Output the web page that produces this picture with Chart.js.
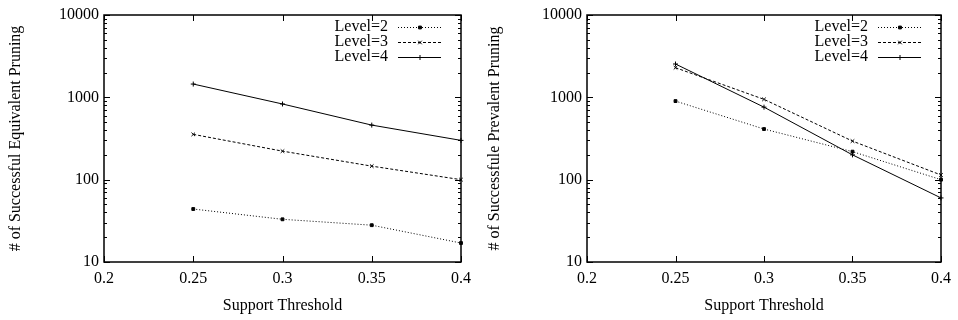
<!DOCTYPE html>
<html>
<head>
<meta charset="utf-8">
<script src="https://cdn.jsdelivr.net/npm/chart.js@4.4.0/dist/chart.umd.min.js"></script>
<style>
  html, body { margin: 0; padding: 0; background: #fff; }
  #wrap { position: relative; width: 958px; height: 320px; }
  canvas { position: absolute; top: 0; }
</style>
</head>
<body>
<div id="wrap">
  <canvas id="left" width="479" height="320" style="left:0"></canvas>
  <canvas id="right" width="479" height="320" style="left:479px"></canvas>
</div>
<script>
// Support thresholds (x values)
const thresholds = [0.25, 0.3, 0.35, 0.4];

// Left chart: successful equivalent pruning
const equivLevel2 = [44, 33, 28, 17];
const equivLevel3 = [355, 222, 146, 100];
const equivLevel4 = [1450, 830, 460, 300];

// Right chart: successful prevalent pruning
const prevLevel2 = [900, 412, 219, 100];
const prevLevel3 = [2290, 945, 294, 114];
const prevLevel4 = [2540, 760, 200, 60];

const seriesLabels = ['Level=2', 'Level=3', 'Level=4'];
const yDecades = [10, 100, 1000, 10000];
const xTickLabels = ['0.2', '0.25', '0.3', '0.35', '0.4'];

Chart.defaults.font.family = '"Liberation Serif", "DejaVu Serif", serif';
Chart.defaults.font.size = 16;
Chart.defaults.color = '#000';

// gnuplot-ish line styles per level
const styles = [
    { dash: [1, 2], pointStyle: 'rect', radius: 2 },
    { dash: [3, 2], pointStyle: 'crossRot', radius: 2.5 },
    { dash: [], pointStyle: 'cross', radius: 2.5 }
];

function toPoints(values) {
    return thresholds.map((x, i) => ({ x: x, y: values[i] }));
}

function buildDatasets(lists) {
    return lists.map((values, i) => ({
        label: seriesLabels[i],
        data: toPoints(values),
        borderColor: '#000',
        backgroundColor: '#000',
        borderWidth: 1,
        borderDash: styles[i].dash,
        pointStyle: styles[i].pointStyle,
        pointRadius: styles[i].radius,
        pointBorderWidth: 1,
        showLine: true,
        tension: 0,
        clip: false
    }));
}

// Border box, inward ticks and the gnuplot style key
const framePlugin = {
    id: 'frame',
    afterDatasetsDraw(chart) {
        const ctx = chart.ctx;
        const area = chart.chartArea;
        const xs = chart.scales.x;
        const ys = chart.scales.y;
        ctx.save();
        ctx.strokeStyle = '#000';
        ctx.lineWidth = 1;

        // x ticks, bottom and top
        xs.ticks.forEach(t => {
            const px = Math.round(xs.getPixelForValue(t.value)) + 0.5;
            ctx.beginPath();
            ctx.moveTo(px, area.bottom); ctx.lineTo(px, area.bottom - 6);
            ctx.moveTo(px, area.top); ctx.lineTo(px, area.top + 6);
            ctx.stroke();
        });

        // y ticks: majors and log minors on both sides
        yDecades.forEach(d => {
            for (let m = 1; m < 10; m++) {
                const v = d * m;
                if (v > ys.max) break;
                const py = Math.round(ys.getPixelForValue(v)) + 0.5;
                const len = m === 1 ? 6 : 3;
                ctx.beginPath();
                ctx.moveTo(area.left, py); ctx.lineTo(area.left + len, py);
                ctx.moveTo(area.right, py); ctx.lineTo(area.right - len, py);
                ctx.stroke();
            }
        });

        // frame
        ctx.lineWidth = 1.5;
        ctx.strokeRect(area.left, area.top, area.right - area.left, area.bottom - area.top);

        // key
        ctx.lineWidth = 1;
        ctx.font = '16px "Liberation Serif", serif';
        ctx.fillStyle = '#000';
        ctx.textAlign = 'right';
        ctx.textBaseline = 'middle';
        chart.data.datasets.forEach((ds, i) => {
            const y = area.top + 12 + i * 15;
            ctx.fillText(ds.label, area.right - 73, y);
            ctx.beginPath();
            ctx.setLineDash(ds.borderDash);
            ctx.moveTo(area.right - 63, y + 0.5);
            ctx.lineTo(area.right - 20, y + 0.5);
            ctx.stroke();
            ctx.setLineDash([]);
            Chart.helpers.drawPoint(ctx, {
                pointStyle: ds.pointStyle,
                radius: ds.pointRadius,
                borderWidth: 1,
                rotation: 0
            }, area.right - 41, y + 0.5);
        });
        ctx.restore();
    }
};

function makeChart(id, lists, yTitle, yWidth, rightPad) {
    return new Chart(document.getElementById(id), {
        type: 'scatter',
        data: { datasets: buildDatasets(lists) },
        options: {
            responsive: false,
            animation: false,
            layout: { padding: { top: 15, right: rightPad, left: 0, bottom: 0 } },
            plugins: {
                legend: { display: false },
                tooltip: { enabled: false }
            },
            scales: {
                x: {
                    type: 'linear',
                    min: 0.2,
                    max: 0.4,
                    grid: { display: false, drawTicks: false },
                    border: { display: false },
                    afterBuildTicks: s => { s.ticks = xTickLabels.map(l => ({ value: parseFloat(l) })); },
                    afterFit: s => { s.height = 58; },
                    ticks: {
                        padding: 7,
                        maxRotation: 0,
                        callback: v => xTickLabels.find(l => Math.abs(parseFloat(l) - v) < 1e-9)
                    },
                    title: {
                        display: true,
                        text: 'Support Threshold',
                        padding: { top: 0, bottom: 5 }
                    }
                },
                y: {
                    type: 'logarithmic',
                    min: 10,
                    max: 10000,
                    grid: { display: false, drawTicks: false },
                    border: { display: false },
                    afterBuildTicks: s => { s.ticks = yDecades.map(v => ({ value: v })); },
                    afterFit: s => { s.width = yWidth; },
                    ticks: {
                        padding: 5,
                        callback: v => String(v)
                    },
                    title: {
                        display: true,
                        text: yTitle,
                        padding: { top: 6, bottom: 0 }
                    }
                }
            }
        },
        plugins: [framePlugin]
    });
}

makeChart('left', [equivLevel2, equivLevel3, equivLevel4],
    '# of Successful Equivalent Pruning', 104, 18);
makeChart('right', [prevLevel2, prevLevel3, prevLevel4],
    '# of Successfule Prevalent Pruning', 108, 12);
</script>
</body>
</html>
